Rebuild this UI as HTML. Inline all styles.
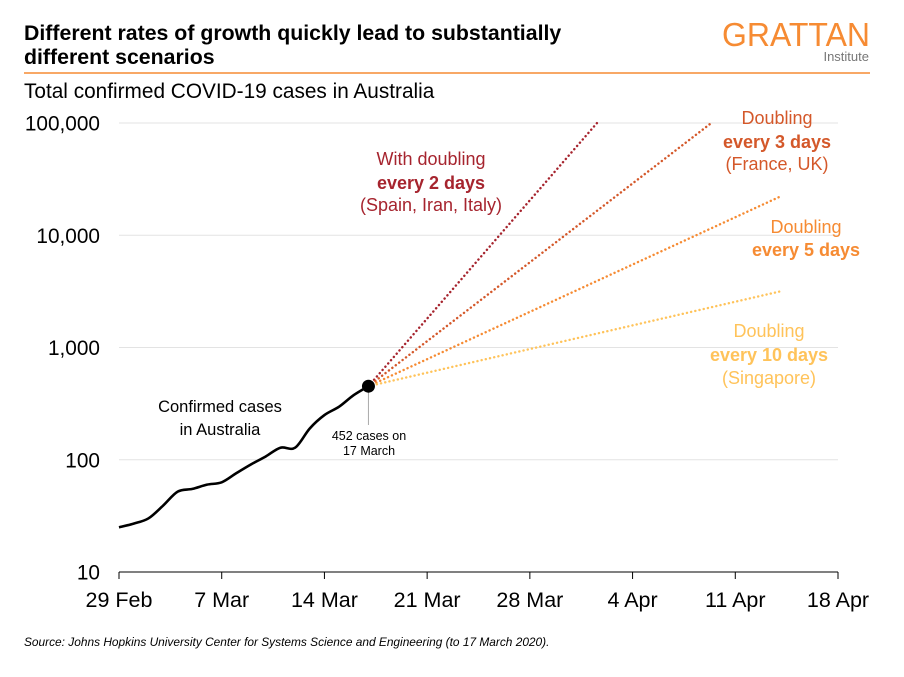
<!DOCTYPE html>
<html><head><meta charset="utf-8"><style>
body{margin:0;background:#fff;width:904px;height:672px;overflow:hidden;font-family:"Liberation Sans",sans-serif}
svg text{font-family:"Liberation Sans",sans-serif}
</style></head><body>
<svg id="chart" width="904" height="672" xmlns="http://www.w3.org/2000/svg">
<text x="24" y="40" font-size="21.3" font-weight="bold" fill="#000">Different rates of growth quickly lead to substantially</text>
<text x="24" y="64" font-size="21.3" font-weight="bold" fill="#000">different scenarios</text>
<text x="870" y="46" font-size="33" fill="#F68B33" text-anchor="end" textLength="148" lengthAdjust="spacingAndGlyphs">GRATTAN</text>
<text x="869" y="61" font-size="13" fill="#777" text-anchor="end" font-family="Liberation Serif">Institute</text>
<line x1="24" y1="73" x2="870" y2="73" stroke="#F68B33" stroke-width="1.5"/>
<text x="24" y="98" font-size="20.8" fill="#000">Total confirmed COVID-19 cases in Australia</text>
<g id="grid"></g><g id="axes"></g><g id="series"></g>
<text x="24" y="646" font-size="11.9" font-style="italic" fill="#000">Source: Johns Hopkins University Center for Systems Science and Engineering (to 17 March 2020).</text>
<g font-size="18" text-anchor="middle">
<text x="431" y="165" fill="#A6242E">With doubling</text>
<text x="431" y="189" fill="#A6242E" font-weight="bold">every 2 days</text>
<text x="431" y="211" fill="#A6242E">(Spain, Iran, Italy)</text>
<text x="777" y="124" fill="#D4582A">Doubling</text>
<text x="777" y="148" fill="#D4582A" font-weight="bold">every 3 days</text>
<text x="777" y="170" fill="#D4582A">(France, UK)</text>
<text x="806" y="233" fill="#F68B33">Doubling</text>
<text x="806" y="256" fill="#F68B33" font-weight="bold">every 5 days</text>
<text x="769" y="337" fill="#FFC35A">Doubling</text>
<text x="769" y="361" fill="#FFC35A" font-weight="bold">every 10 days</text>
<text x="769" y="384" fill="#FFC35A">(Singapore)</text>
<text x="220" y="412" font-size="16.5" fill="#000">Confirmed cases</text>
<text x="220" y="435" font-size="16.5" fill="#000">in Australia</text>
<text x="369" y="440" font-size="12.5" fill="#000">452 cases on</text>
<text x="369" y="455" font-size="12.5" fill="#000">17 March</text>
</g>
</svg>
<script>
const xTickLabels=["29 Feb","7 Mar","14 Mar","21 Mar","28 Mar","4 Apr","11 Apr","18 Apr"];
const yTickValues=[10,100,1000,10000,100000];
const yTickLabels=["10","100","1,000","10,000","100,000"];
const caseDays=[0,1,2,3,4,5,6,7,8,9,10,11,12,13,14,15,16,17];
const caseValues=[25,27,30,39,52,55,60,63,76,91,107,128,128,190,250,297,377,452];
const doublingPeriods=[2,3,5,10];
const projectionEndDays=[32.6,40.4,45,45];
const projectionColors=["#A6242E","#D4582A","#F68B33","#FFC35A"];
const NS="http://www.w3.org/2000/svg";
const X0=119,X1=838,Y10=572,DEC=112.25;
const x=d=>X0+d*(X1-X0)/49;
const y=v=>Y10-(Math.log10(v)-1)*DEC;
function mk(t,a,p){const e=document.createElementNS(NS,t);for(const k in a)e.setAttribute(k,a[k]);p.appendChild(e);return e;}
const grid=document.getElementById('grid'),axes=document.getElementById('axes'),ser=document.getElementById('series');
yTickValues.forEach((v,i)=>{
 if(i>0){const g=mk('line',{x1:X0,x2:X1,y1:y(v),y2:y(v),stroke:'#e3e3e3','stroke-width':1},grid);
 
 }
 const t=mk('text',{x:100,y:y(v)+7.5,'font-size':20.8,'text-anchor':'end',fill:'#000'},axes);t.textContent=yTickLabels[i];
 
 
});
const ax=mk('line',{x1:X0,x2:X1,y1:Y10,y2:Y10,stroke:'#000','stroke-width':1},axes);


xTickLabels.forEach((l,i)=>{
 const xx=x(i*7);
 const tk=mk('line',{x1:xx,x2:xx,y1:Y10,y2:Y10+7,stroke:'#000'},axes);
 
 
 const t=mk('text',{x:xx,y:Y10+35,'font-size':21.5,'text-anchor':'middle',fill:'#000'},axes);t.textContent=l;
 
 
});
const last=caseDays.length-1,d0=caseDays[last],v0=caseValues[last];
doublingPeriods.forEach((p,i)=>{
 const d1=projectionEndDays[i],v1=v0*Math.pow(2,(d1-d0)/p);
 const l=mk('line',{x1:x(d0),y1:y(v0),x2:x(d1),y2:y(v1),stroke:projectionColors[i],'stroke-width':2.4,'stroke-dasharray':'0.1 4.2','stroke-linecap':'round'},ser);
 
 
});
const P=caseDays.map((d,i)=>[x(d),y(caseValues[i])]);
let dpath='M'+P[0][0]+','+P[0][1];
for(let i=0;i<P.length-1;i++){
 const p0=P[Math.max(0,i-1)],p1=P[i],p2=P[i+1],p3=P[Math.min(P.length-1,i+2)];
 const c1=[p1[0]+(p2[0]-p0[0])/6,p1[1]+(p2[1]-p0[1])/6],c2=[p2[0]-(p3[0]-p1[0])/6,p2[1]-(p3[1]-p1[1])/6];
 dpath+=' C'+c1.join(',')+' '+c2.join(',')+' '+p2.join(',');
}
const pl=mk('path',{d:dpath,fill:'none',stroke:'#000','stroke-width':2.6,'stroke-linejoin':'round'},ser);


const ld=mk('line',{x1:x(d0),x2:x(d0),y1:y(v0),y2:425,stroke:'#aaa','stroke-width':1},ser);


const c=mk('circle',{cx:x(d0),cy:y(v0),r:6.5,fill:'#000'},ser);


</script>
</body></html>
